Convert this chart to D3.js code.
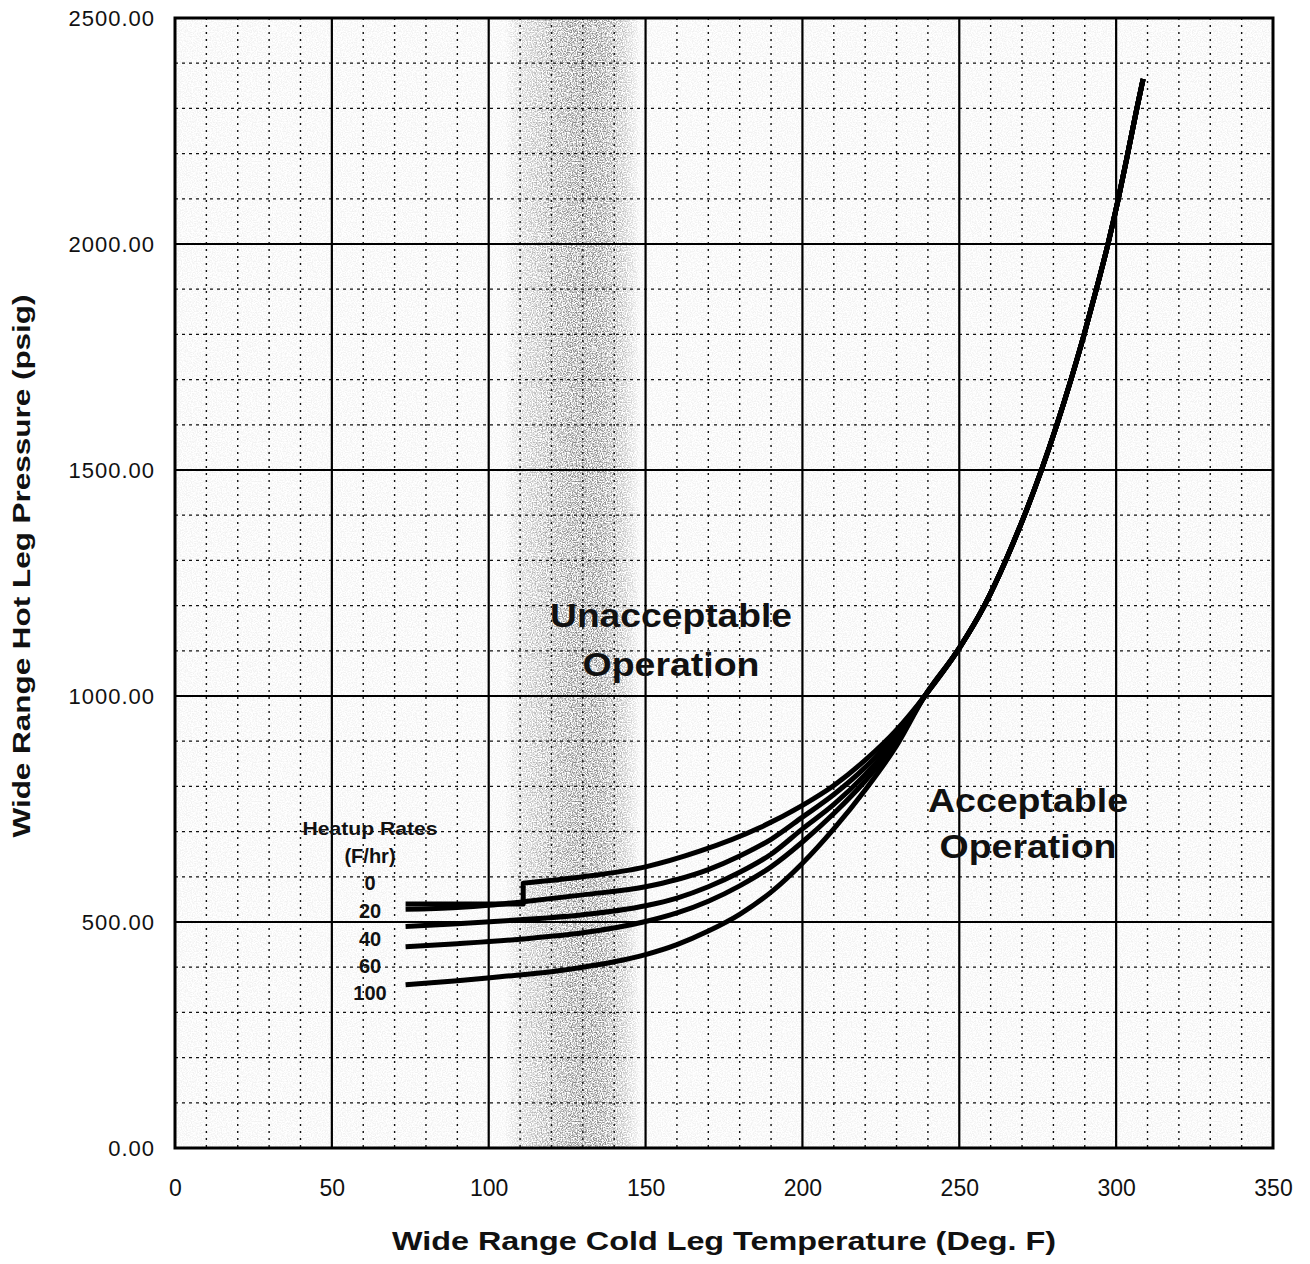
<!DOCTYPE html>
<html>
<head>
<meta charset="utf-8">
<script src="https://cdn.jsdelivr.net/npm/d3@7"></script>
<style>
  body { margin: 0; background: #fff; }
  text { font-family: "Liberation Sans", Arial, sans-serif; fill: #111; }
</style>
</head>
<body>
<div id="chart"></div>
<script>
// axis ticks
const xTicks = [0, 50, 100, 150, 200, 250, 300, 350];
const yTicks = [0, 500, 1000, 1500, 2000, 2500];

// heatup rate labels (F/hr)
const heatupRates = ['0', '20', '40', '60', '100'];

// lower branches, one per heatup rate (deg F / psig)
const rate0Temp = [73.5, 90, 111, 111, 130, 150, 167, 186.5, 200, 210, 220, 230];
const rate0Pres = [540, 540, 540, 586, 600, 622, 656, 709, 758, 802, 858, 925];
const rate20Temp = [73.5, 90, 100, 111, 130, 150, 160, 170, 180, 190, 200, 210, 220, 230];
const rate20Pres = [528, 532, 537, 545, 560, 578, 594, 616, 646, 683, 732, 782, 842, 916];
const rate40Temp = [73.5, 90, 110, 130, 150, 160, 170, 180, 190, 200, 210, 220, 230];
const rate40Pres = [490, 496, 505, 516, 536, 553, 578, 610, 650, 706, 760, 826, 906];
const rate60Temp = [73.5, 90, 110, 130, 150, 160, 170, 180, 190, 200, 210, 220, 230];
const rate60Pres = [445, 452, 462, 476, 501, 520, 546, 580, 622, 677, 740, 812, 898];
const rate100Temp = [73.5, 90, 103.6, 120, 130, 140, 150, 160, 170, 180, 190, 200, 210, 220, 230];
const rate100Pres = [361, 370, 379, 390, 400, 412, 428, 450, 480, 517, 566, 630, 706, 792, 890];

// common upper branch, all rates share it
const upperTemp = [239, 250, 258, 264.8, 270.8, 276.2, 281.1, 285.6, 289.8, 293.7, 297.4, 300.7, 303.7, 306.6, 308.6];
const upperPres = [1000, 1106, 1200, 1300, 1400, 1500, 1600, 1700, 1800, 1900, 2000, 2100, 2200, 2300, 2365];

const W = 1310, H = 1264;
const x = d3.scaleLinear().domain([0, 350]).range([175, 1273]);
const y = d3.scaleLinear().domain([0, 2500]).range([1148, 18]);

const svg = d3.select('#chart').append('svg')
  .attr('width', W)
  .attr('height', H);

const defs = svg.append('defs');

// grainy grey band (scanner smudge)
const grad = defs.append('linearGradient')
  .attr('id', 'band')
  .attr('gradientUnits', 'userSpaceOnUse')
  .attr('x1', 505).attr('x2', 640).attr('y1', 0).attr('y2', 0);
[[0, 0], [0.15, 0.22], [0.5, 0.5], [0.72, 0.5], [0.88, 0.25], [1, 0]].forEach(([o, a]) => {
  grad.append('stop').attr('offset', o).attr('stop-color', '#222').attr('stop-opacity', a);
});

const grain = defs.append('filter').attr('id', 'grain');
grain.append('feTurbulence')
  .attr('type', 'fractalNoise').attr('baseFrequency', 0.8)
  .attr('numOctaves', 2).attr('seed', 7).attr('result', 't');
grain.append('feColorMatrix')
  .attr('in', 't').attr('type', 'matrix')
  .attr('values', '0 0 0 0 0  0 0 0 0 0  0 0 0 0 0  0 0 0 3.2 -1.2')
  .attr('result', 'n');
grain.append('feComposite')
  .attr('in', 'SourceGraphic').attr('in2', 'n').attr('operator', 'in');

const plot = svg.append('g').attr('class', 'plot');

// faint speckle over the whole plot
plot.append('rect')
  .attr('x', x(0)).attr('y', y(2500))
  .attr('width', x(350) - x(0)).attr('height', y(0) - y(2500))
  .attr('fill', '#000').attr('fill-opacity', 0.05)
  .attr('filter', 'url(#grain)');

plot.append('rect')
  .attr('x', 505).attr('y', y(2500))
  .attr('width', 135).attr('height', y(0) - y(2500))
  .attr('fill', 'url(#band)')
  .attr('filter', 'url(#grain)');

/* GRID */
const minorX = d3.range(10, 350, 10).filter(d => d % 50 !== 0);
const minorY = d3.range(100, 2500, 100).filter(d => d % 500 !== 0);

plot.append('g').selectAll('line')
  .data(minorX)
  .join('line')
  .attr('x1', d => x(d)).attr('x2', d => x(d))
  .attr('y1', y(2500)).attr('y2', y(0))
  .attr('stroke', '#111').attr('stroke-width', 1.4)
  .attr('stroke-dasharray', '2,5');

plot.append('g').selectAll('line')
  .data(minorY)
  .join('line')
  .attr('x1', x(0)).attr('x2', x(350))
  .attr('y1', d => y(d)).attr('y2', d => y(d))
  .attr('stroke', '#111').attr('stroke-width', 1.3)
  .attr('stroke-dasharray', '3,4');

plot.append('g').selectAll('line')
  .data(xTicks.slice(1, -1))
  .join('line')
  .attr('x1', d => x(d)).attr('x2', d => x(d))
  .attr('y1', y(2500)).attr('y2', y(0))
  .attr('stroke', '#000').attr('stroke-width', 2.2);

plot.append('g').selectAll('line')
  .data(yTicks.slice(1, -1))
  .join('line')
  .attr('x1', x(0)).attr('x2', x(350))
  .attr('y1', d => y(d)).attr('y2', d => y(d))
  .attr('stroke', '#000').attr('stroke-width', 2.2);

plot.append('rect')
  .attr('x', x(0)).attr('y', y(2500))
  .attr('width', x(350) - x(0)).attr('height', y(0) - y(2500))
  .attr('fill', 'none').attr('stroke', '#000').attr('stroke-width', 3);

/* AXES */
const yAxis = svg.append('g')
  .attr('transform', `translate(${x(0)},0)`)
  .call(d3.axisLeft(y).tickValues(yTicks).tickFormat(d3.format('.2f')).tickSize(0).tickPadding(20));
yAxis.select('.domain').remove();
yAxis.selectAll('text')
  .attr('font-size', 22).attr('letter-spacing', 1).attr('fill', '#111')
  .style('font-family', '"Liberation Sans", Arial, sans-serif');

const xAxis = svg.append('g')
  .attr('transform', `translate(0,${y(0)})`)
  .call(d3.axisBottom(x).tickValues(xTicks).tickFormat(d3.format('d')).tickSize(0).tickPadding(32));
xAxis.select('.domain').remove();
xAxis.selectAll('text')
  .attr('font-size', 23).attr('fill', '#111')
  .style('font-family', '"Liberation Sans", Arial, sans-serif');

svg.append('text')
  .attr('x', 724).attr('y', 1250)
  .attr('text-anchor', 'middle')
  .attr('font-size', 26).attr('font-weight', 'bold')
  .attr('textLength', 664).attr('lengthAdjust', 'spacingAndGlyphs')
  .text('Wide Range Cold Leg Temperature (Deg. F)');

svg.append('text')
  .attr('transform', 'translate(30,566) rotate(-90)')
  .attr('text-anchor', 'middle')
  .attr('font-size', 23).attr('font-weight', 'bold')
  .attr('textLength', 543).attr('lengthAdjust', 'spacingAndGlyphs')
  .text('Wide Range Hot Leg Pressure (psig)');

/* CURVES */
const series = [
  [rate0Temp, rate0Pres],
  [rate20Temp, rate20Pres],
  [rate40Temp, rate40Pres],
  [rate60Temp, rate60Pres],
  [rate100Temp, rate100Pres],
].map(([t, p]) => t.map((d, i) => ({ t: d, p: p[i] }))
  .concat(upperTemp.map((d, i) => ({ t: d, p: upperPres[i] }))));

const line = d3.line()
  .x(d => x(d.t))
  .y(d => y(d.p))
  .curve(d3.curveMonotoneX);

// split where the curve steps straight up, join the pieces with a plain segment
function pathFor(pts) {
  const runs = [[pts[0]]];
  for (let i = 1; i < pts.length; i++) {
    if (pts[i].t === pts[i - 1].t) runs.push([pts[i]]);
    else runs[runs.length - 1].push(pts[i]);
  }
  return runs.map((r, i) => {
    const s = r.length > 1 ? line(r) : `M${x(r[0].t)},${y(r[0].p)}`;
    return i ? 'L' + s.slice(1) : s;
  }).join('');
}

plot.append('g').selectAll('path')
  .data(series)
  .join('path')
  .attr('d', pathFor)
  .attr('fill', 'none')
  .attr('stroke', '#000')
  .attr('stroke-width', 5)
  .attr('stroke-linejoin', 'round');

/* LABELS */
const regionLabels = [
  { lines: ['Unacceptable', 'Operation'], cx: 671, ys: [627, 676], widths: [242, 177] },
  { lines: ['Acceptable', 'Operation'], cx: 1028, ys: [812, 858], widths: [200, 177] },
];
regionLabels.forEach(r => {
  r.lines.forEach((s, i) => {
    svg.append('text')
      .attr('x', r.cx).attr('y', r.ys[i])
      .attr('text-anchor', 'middle')
      .attr('font-size', 33).attr('font-weight', 'bold')
      .attr('textLength', r.widths[i]).attr('lengthAdjust', 'spacingAndGlyphs')
      .text(s);
  });
});

const legend = svg.append('g').attr('class', 'legend');
legend.append('text')
  .attr('x', 370).attr('y', 835)
  .attr('text-anchor', 'middle')
  .attr('font-size', 19).attr('font-weight', 'bold')
  .attr('textLength', 135).attr('lengthAdjust', 'spacingAndGlyphs')
  .text('Heatup Rates');
legend.append('text')
  .attr('x', 370).attr('y', 863)
  .attr('text-anchor', 'middle')
  .attr('font-size', 20).attr('font-weight', 'bold')
  .text('(F/hr)');
legend.selectAll('text.rate')
  .data(heatupRates)
  .join('text')
  .attr('class', 'rate')
  .attr('x', 370)
  .attr('y', (d, i) => [890, 918, 946, 973, 1000][i])
  .attr('text-anchor', 'middle')
  .attr('font-size', 20).attr('font-weight', 'bold')
  .text(d => d);
</script>
</body>
</html>
